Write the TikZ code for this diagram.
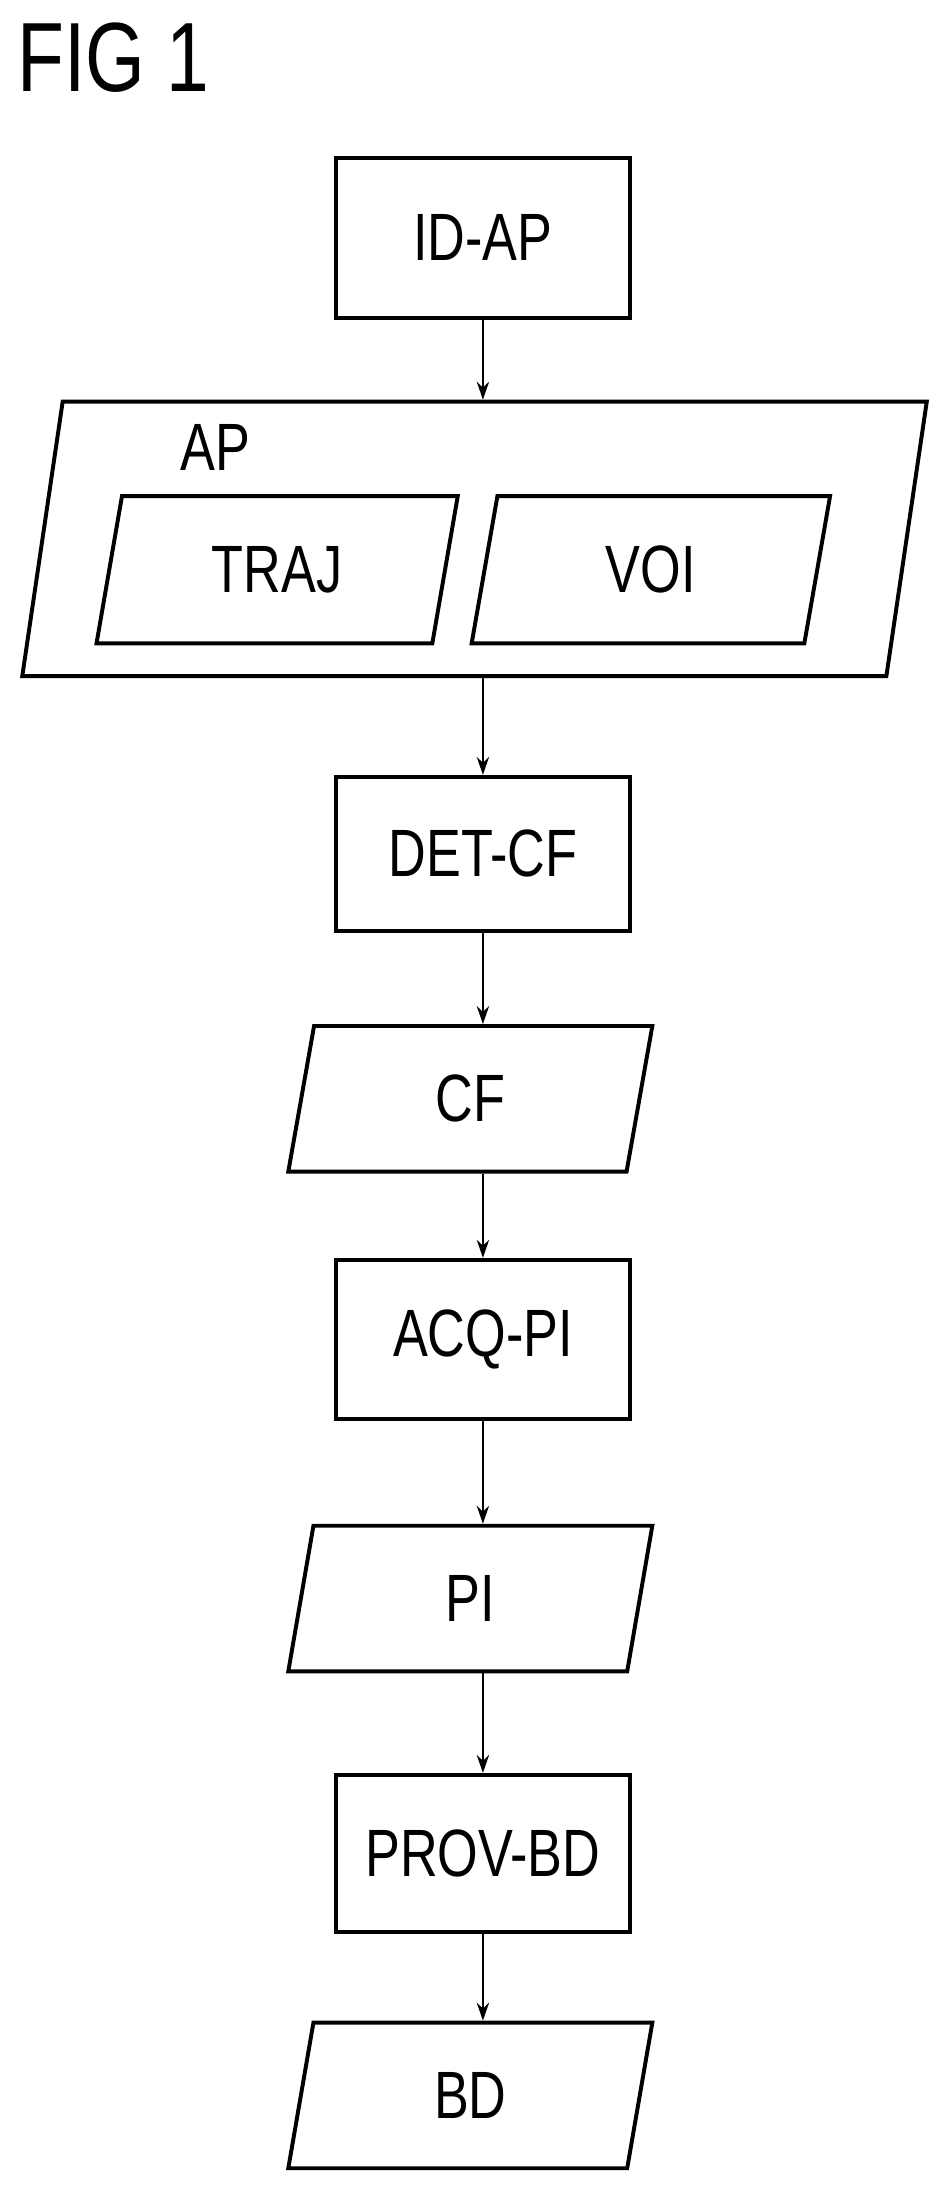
\documentclass[tikz,border=0pt]{standalone}
\usepackage{fontspec}
\setmainfont{Liberation Sans}[FakeStretch=0.78]
\usetikzlibrary{shapes.geometric,arrows.meta}
\tikzset{
  box/.style={draw, line width=2pt, minimum width=5.25cm, minimum height=2.85cm,
    font=\fontsize{34}{40}\selectfont},
  data/.style={draw, line width=2pt, trapezium, trapezium left angle=65,
    trapezium right angle=115, trapezium stretches body=true, inner sep=2pt,
    font=\fontsize{34}{40}\selectfont},
  flow/.style={line width=1pt, -{Stealth[length=0.32cm,width=0.22cm]}},
}
\begin{document}
\begin{tikzpicture}[x=0.025cm,y=-0.025cm]
\useasboundingbox (0,0) rectangle (680,1566);
\node[anchor=north west, inner sep=0pt, font=\fontsize{50}{60}\selectfont] (fig) at (12,16) {FIG 1};
% steps and data
\node[box] (idap) at (345,170) {ID-AP};
\node[data, minimum width=16.15cm, minimum height=4.9cm] (ap) at (339,385) {\strut};
\node[font=\fontsize{34}{40}\selectfont, anchor=north west, inner sep=0pt] (aplab) at (129,303) {AP};
\node[data, minimum width=6.45cm, minimum height=2.63cm] (traj) at (198,407) {TRAJ};
\node[data, minimum width=6.4cm, minimum height=2.63cm] (voi) at (465,407) {VOI};
\node[box, minimum height=2.75cm] (detcf) at (345,610) {DET-CF};
\node[data, minimum width=6.5cm, minimum height=2.6cm] (cf) at (336,785) {CF};
\node[box] (acqpi) at (345,957) {ACQ-PI};
\node[data, minimum width=6.5cm, minimum height=2.6cm] (pi) at (336,1142) {PI};
\node[box, minimum height=2.8cm] (provbd) at (345,1324) {PROV-BD};
\node[data, minimum width=6.5cm, minimum height=2.6cm] (bd) at (336,1497) {BD};
% connectors
\draw[flow] (idap.south) -- (idap.south|-ap.north);
\draw[flow] (detcf.north|-ap.south) -- (detcf.north);
\draw[flow] (detcf.south) -- (detcf.south|-cf.north);
\draw[flow] (acqpi.north|-cf.south) -- (acqpi.north);
\draw[flow] (acqpi.south) -- (acqpi.south|-pi.north);
\draw[flow] (provbd.north|-pi.south) -- (provbd.north);
\draw[flow] (provbd.south) -- (provbd.south|-bd.north);
\end{tikzpicture}
\end{document}
